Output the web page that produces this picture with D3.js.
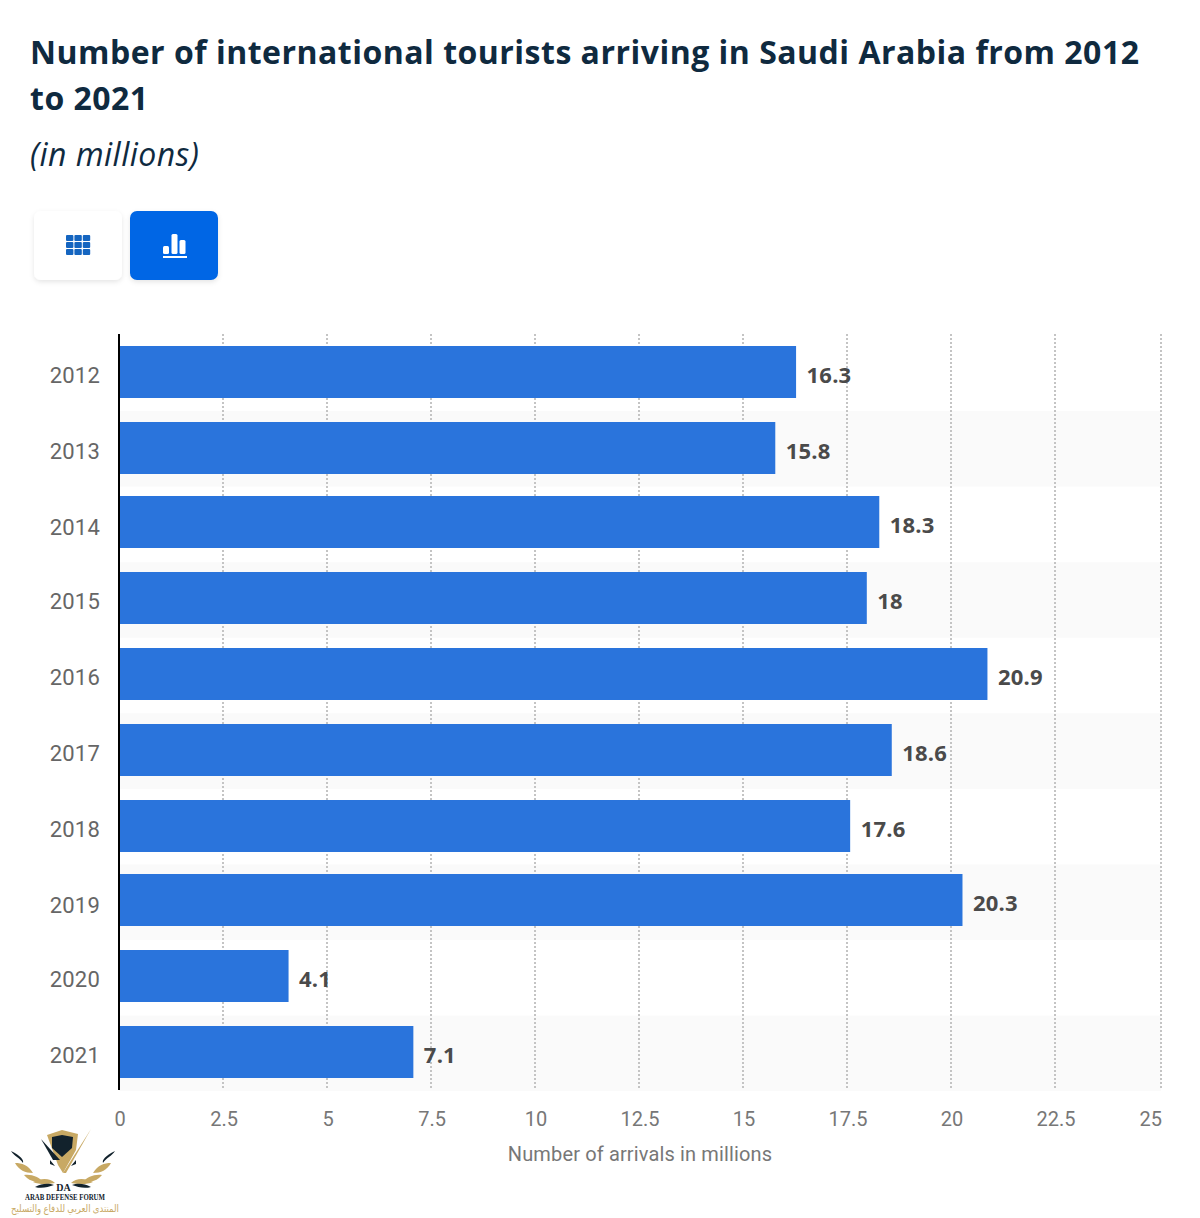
<!DOCTYPE html>
<html>
<head>
<meta charset="utf-8">
<script src="https://cdn.jsdelivr.net/npm/d3@7"></script>
<style>
  html, body { margin: 0; padding: 0; background: #fff; }
  svg { display: block; }
</style>
</head>
<body>
<svg id="chart" width="1200" height="1218"></svg>
<script>
var years = ["2012", "2013", "2014", "2015", "2016", "2017", "2018", "2019", "2020", "2021"];
var arrivals = [16.3, 15.8, 18.3, 18, 20.9, 18.6, 17.6, 20.3, 4.1, 7.1];
var xTicks = [0, 2.5, 5, 7.5, 10, 12.5, 15, 17.5, 20, 22.5, 25];
var titleLines = ["Number of international tourists arriving in Saudi Arabia from 2012", "to 2021"];
var subtitle = "(in millions)";
var axisTitle = "Number of arrivals in millions";

var svg = d3.select("#chart");

var defs = svg.append("defs");
var shadow = defs.append("filter").attr("id", "btnShadow")
    .attr("x", "-20%").attr("y", "-20%").attr("width", "140%").attr("height", "150%");
shadow.append("feDropShadow").attr("dx", 0).attr("dy", 2).attr("stdDeviation", 2.5)
    .attr("flood-color", "#000").attr("flood-opacity", 0.1);

// title
svg.selectAll("text.title").data(titleLines).enter().append("text")
    .attr("class", "title")
    .attr("x", 30)
    .attr("y", function(d, i) { return 64 + i * 46; })
    .style("font", "700 32px 'Open Sans'")
    .style("letter-spacing", "0.49px")
    .style("fill", "#0f2a3f")
    .text(function(d) { return d; });

svg.append("text")
    .attr("x", 30).attr("y", 166)
    .style("font", "italic 400 32px 'Open Sans'")
    .style("letter-spacing", "0.45px")
    .style("fill", "#0f2a3f")
    .text(subtitle);

// table / chart buttons
svg.append("rect").attr("x", 34).attr("y", 211).attr("width", 88).attr("height", 69).attr("rx", 7)
    .attr("fill", "#fff").attr("filter", "url(#btnShadow)");
svg.append("rect").attr("x", 130).attr("y", 211).attr("width", 88).attr("height", 69).attr("rx", 7)
    .attr("fill", "#0666e5").attr("filter", "url(#btnShadow)");

var grid = svg.append("g").attr("fill", "#1565c0");
d3.range(3).forEach(function(row) {
    d3.range(3).forEach(function(col) {
        grid.append("rect")
            .attr("x", 66 + col * 8.4).attr("y", 235 + row * 7)
            .attr("width", 7.4).attr("height", 6).attr("rx", 1);
    });
});
var barIcon = svg.append("g").attr("fill", "#fff");
barIcon.append("rect").attr("x", 163).attr("y", 246).attr("width", 6).attr("height", 8).attr("rx", 1.5);
barIcon.append("rect").attr("x", 171.5).attr("y", 234).attr("width", 6).attr("height", 20).attr("rx", 1.5);
barIcon.append("rect").attr("x", 179.5).attr("y", 240).attr("width", 6).attr("height", 14).attr("rx", 1.5);
barIcon.append("rect").attr("x", 163).attr("y", 256).attr("width", 24).attr("height", 2);

// scales
var x = d3.scaleLinear().domain([0, 25]).range([119, 1159]);
var y = d3.scaleBand().domain(years).range([334, 1089.6]);
var barHeight = 52;
var plotRight = 1161;  // last gridline sits a bit past the scale end

function snap(v) { return 2 * Math.round(v / 2); }  // reference sits on a 2px grid
function center(d) { return y(d) + y.bandwidth() / 2; }
function gridX(d) { return d == 25 ? plotRight : x(d); }

// alternating row bands
svg.selectAll("rect.row").data(years.filter(function(d, i) { return i % 2 == 1; })).enter().append("rect")
    .attr("class", "row")
    .attr("x", x(0)).attr("y", function(d) { return y(d) + 1.5; })
    .attr("width", plotRight - x(0)).attr("height", y.bandwidth())
    .attr("fill", "#fafafa");

// gridlines
svg.selectAll("line.grid").data(xTicks.slice(1)).enter().append("line")
    .attr("class", "grid")
    .attr("x1", gridX).attr("x2", gridX)
    .attr("y1", 334).attr("y2", 1090)
    .attr("stroke", "#c4c4c4").attr("stroke-width", 2).attr("stroke-dasharray", "2 2");

// bars
svg.selectAll("rect.bar").data(arrivals).enter().append("rect")
    .attr("class", "bar")
    .attr("x", x(0))
    .attr("y", function(d, i) { return snap(center(years[i]) - barHeight / 2); })
    .attr("width", function(d) { return x(d) - x(0) - 1; })
    .attr("height", barHeight)
    .attr("fill", "#2a74dc");

// value labels
svg.selectAll("text.value").data(arrivals).enter().append("text")
    .attr("class", "value")
    .attr("x", function(d) { return x(d) + 9.5; })
    .attr("y", function(d, i) { return snap(center(years[i]) - barHeight / 2) + barHeight / 2 + 10.5; })
    .style("font", "700 22px 'Open Sans'")
    .style("letter-spacing", "0.2px")
    .style("fill", "#4a4a4a")
    .text(function(d) { return d; });

// category axis
svg.selectAll("text.year").data(years).enter().append("text")
    .attr("class", "year")
    .attr("x", 100)
    .attr("y", function(d) { return snap(center(d) + 4.5) + 7; })
    .attr("text-anchor", "end")
    .style("font", "400 22px Roboto")
    .style("letter-spacing", "0.2px")
    .style("fill", "#666")
    .text(function(d) { return d; });

svg.append("line")
    .attr("x1", 119).attr("x2", 119).attr("y1", 334).attr("y2", 1090)
    .attr("stroke", "#000").attr("stroke-width", 2);

// value axis
var xAxis = svg.append("g")
    .attr("transform", "translate(0.6,1090)")
    .call(d3.axisBottom(x).tickValues(xTicks).tickFormat(function(d) { return d; }).tickSize(0).tickPadding(22));
xAxis.select(".domain").remove();
xAxis.selectAll("text")
    .style("font", "400 20px Roboto")
    .style("fill", "#777");
// the 25 label is pulled in so it ends at the plot edge
xAxis.selectAll(".tick").filter(function(d) { return d == 25; }).select("text")
    .attr("text-anchor", "end").attr("x", plotRight - x(25));

svg.append("text")
    .attr("x", 640).attr("y", 1161)
    .attr("text-anchor", "middle")
    .style("font", "400 20px Roboto")
    .style("letter-spacing", "0.14px")
    .style("fill", "#777")
    .text(axisTitle);

// forum watermark, bottom left
var gold = "#c8a964", ink = "#12222c";
var logo = svg.append("g");
logo.append("path").attr("d", "M47 1135 L62 1130 L78 1134 L76 1150 L63 1173 L58 1165 Z").attr("fill", gold);
logo.append("path").attr("d", "M52 1137 L62 1135 L73 1137 L72 1148 L62 1157 L52 1148 Z").attr("fill", ink);
logo.append("path").attr("d", "M63 1173 L91 1129 L66 1173 Z").attr("fill", gold);
logo.append("path").attr("d", "M41 1139 L60 1160 L53 1160 Z").attr("fill", ink);
logo.append("path").attr("d", "M50 1160 L55 1166 L50 1164 Z M76 1160 L71 1166 L76 1164 Z").attr("fill", ink);

var wingFeathers = [
    ["M11 1151 C14 1156 20 1158 23 1163 C24 1160 21 1156 11 1151 Z", ink],
    ["M15 1163 C22 1163 28 1165 33 1173 C25 1173 19 1170 15 1163 Z", gold],
    ["M24 1175 C32 1174 39 1177 43 1182 C35 1183 28 1180 24 1175 Z", gold],
    ["M33 1182 C41 1178 50 1178 55 1183 C48 1184 40 1185 33 1182 Z", gold],
    ["M35 1187 C42 1183 49 1183 54 1185 C48 1187 42 1189 35 1187 Z", ink]
];
// left wing, then the same feathers mirrored around x = 63
[0, 1].forEach(function(side) {
    var wing = logo.append("g");
    if (side) wing.attr("transform", "translate(126,0) scale(-1,1)");
    wingFeathers.forEach(function(f) {
        wing.append("path").attr("d", f[0]).attr("fill", f[1]);
    });
});

logo.append("text").attr("x", 63.5).attr("y", 1191).attr("text-anchor", "middle")
    .style("font", "700 10px 'Liberation Serif'").style("fill", ink).text("DA");
logo.append("text").attr("x", 25).attr("y", 1200)
    .attr("textLength", 80).attr("lengthAdjust", "spacingAndGlyphs")
    .style("font", "700 9px 'Liberation Serif'").style("fill", ink).text("ARAB DEFENSE FORUM");
logo.append("text").attr("x", 11).attr("y", 1212)
    .attr("textLength", 108).attr("lengthAdjust", "spacingAndGlyphs")
    .style("font", "400 10px 'Noto Sans', 'DejaVu Sans'").style("fill", gold).text("المنتدى العربي للدفاع والتسليح");
</script>
</body>
</html>
